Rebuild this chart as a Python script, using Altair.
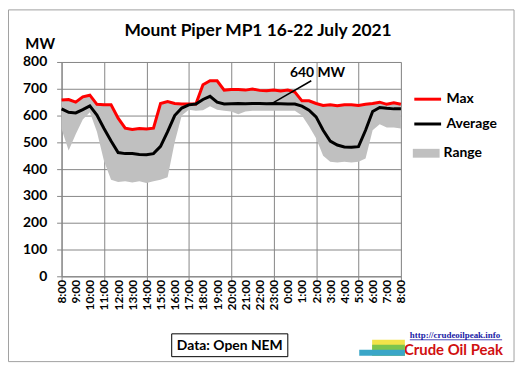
import altair as alt
import pandas as pd

# time axis: hours after 8:00 on the first day, every 30 minutes
hours = [i * 0.5 for i in range(49)]

max_mw = [658, 660, 650, 670, 676, 642, 640, 640, 590, 553, 548, 552, 550, 553,
          645, 652, 645, 643, 643, 643, 715, 730, 730, 695, 697, 697, 695, 699,
          694, 693, 695, 692, 695, 688, 655, 655, 645, 638, 640, 637, 640, 640,
          638, 642, 645, 650, 642, 648, 642]
avg_mw = [625, 612, 610, 622, 636, 602, 552, 505, 462, 458, 458, 455, 454, 458,
          485, 540, 600, 628, 640, 643, 660, 672, 650, 643, 644, 645, 644, 645,
          645, 644, 645, 644, 643, 643, 635, 620, 595, 545, 505, 490, 483, 482,
          484, 545, 615, 630, 627, 625, 625]
min_mw = [550, 470, 530, 585, 612, 540, 430, 360, 352, 355, 350, 355, 348, 355,
          360, 370, 500, 600, 622, 618, 620, 635, 622, 618, 615, 605, 615, 618,
          618, 618, 618, 618, 618, 618, 600, 560, 515, 450, 428, 425, 428, 425,
          428, 440, 545, 568, 555, 555, 552]

series_names = ["Max", "Average"]
series_colors = ["#ff0000", "#000000"]
range_name = ["Range"]
range_color = ["#c0c0c0"]

hour_ticks = list(range(25))
grid_hours = list(range(0, 25, 3))
mw_ticks = list(range(0, 801, 100))

title_text = ["Mount Piper MP1 16-22 July 2021"]
note_text = ["640 MW"]
note_h = [18.1]
note_v = [757]
pointer_h = [14.95]
pointer_v = [647]
pointer_h2 = [17.66]
pointer_v2 = [730]
source_text = ["Data: Open NEM"]
url_text = ["http://crudeoilpeak.info"]
brand_text = ["Crude Oil Peak"]

FONT = "Lato"
GRID = "#868686"

df = pd.DataFrame({"h": hours, "Max": max_mw, "Average": avg_mw, "Min": min_mw})

# axis with grid + ticks every 3 hours (no labels)
x_grid_axis = alt.Axis(
    orient="bottom", values=grid_hours, labels=False,
    grid=True, gridColor=GRID, gridWidth=1,
    ticks=True, tickColor=GRID, tickSize=5,
    domain=True, domainColor=GRID, title=None,
)
# axis with hourly labels only
x_label_axis = alt.Axis(
    orient="bottom", values=hour_ticks,
    labelExpr="((datum.value + 8) % 24) + ':00'",
    labelAngle=-90, labelFont=FONT, labelFontWeight="bold", labelFontSize=12,
    labelColor="black", labelPadding=3, labelOverlap=False, labelFlush=False,
    grid=False, ticks=False, domain=False, title=None,
)
y_axis = alt.Axis(
    orient="left", values=mw_ticks,
    labelFont=FONT, labelFontWeight="bold", labelFontSize=14, labelColor="black",
    labelPadding=10, labelOverlap=False, labelFlush=False,
    grid=True, gridColor=GRID, tickColor=GRID, tickSize=5,
    domainColor=GRID,
    title="MW", titleAngle=0, titleFont=FONT, titleFontWeight="bold",
    titleFontSize=15, titleAlign="left", titleBaseline="alphabetic",
    titleX=-37, titleY=-14, titleColor="black",
)
xs = alt.Scale(domain=[0, 24], nice=False, zero=False)
ys = alt.Scale(domain=[0, 800], nice=False)

base = alt.Chart(df)

area = base.transform_calculate(lab="'Range'").mark_area(opacity=1).encode(
    x=alt.X("h:Q", scale=xs, axis=x_grid_axis),
    y=alt.Y("Min:Q", scale=ys, axis=y_axis),
    y2="Max:Q",
    fill=alt.Fill("lab:N", scale=alt.Scale(domain=range_name, range=range_color),
                  legend=alt.Legend(orient="none", legendX=354, legendY=78.5, title=None,
                                    symbolType="M-1,-0.33L1,-0.33L1,0.33L-1,0.33Z",
                                    symbolSize=729, symbolStrokeWidth=0, symbolOpacity=1,
                                    labelFont=FONT, labelFontWeight="bold", labelFontSize=14,
                                    labelColor="black", labelOffset=4, padding=0, rowPadding=0)),
)

lines = base.transform_fold(series_names, as_=["series", "mw"]).mark_line(strokeWidth=3).encode(
    x=alt.X("h:Q", scale=xs, axis=x_label_axis),
    y=alt.Y("mw:Q", scale=ys, axis=None),
    stroke=alt.Stroke("series:N", scale=alt.Scale(domain=series_names, range=series_colors),
                      legend=alt.Legend(orient="none", legendX=354, legendY=22.5, title=None,
                                        symbolType="stroke", symbolSize=729, symbolStrokeWidth=3,
                                        labelFont=FONT, labelFontWeight="bold", labelFontSize=14,
                                        labelColor="black", labelOffset=4, padding=0, rowPadding=3)),
)

note_df = pd.DataFrame({"h": pointer_h, "v": pointer_v, "h2": pointer_h2, "v2": pointer_v2,
                        "th": note_h, "tv": note_v, "t": note_text})
pointer = alt.Chart(note_df).mark_rule(color="black", strokeWidth=1.5).encode(
    x=alt.X("h:Q", scale=xs, axis=None), y=alt.Y("v:Q", scale=ys, axis=None), x2="h2:Q", y2="v2:Q")
note = alt.Chart(note_df).mark_text(font=FONT, fontWeight="bold", fontSize=14, color="black").encode(
    x=alt.X("th:Q", scale=xs, axis=None), y=alt.Y("tv:Q", scale=ys, axis=None), text="t:N")

title = alt.Chart(pd.DataFrame({"t": title_text})).mark_text(
    font=FONT, fontWeight="bold", fontSize=17.5, color="black", baseline="alphabetic"
).encode(x=alt.value(198), y=alt.value(-26), text="t:N")

frame = alt.Chart(pd.DataFrame({"t": [0]})).mark_rect(filled=False, stroke="#a0a0a0", strokeWidth=1).encode(
    x=alt.value(-53.5), x2=alt.value(456), y=alt.value(-52.5), y2=alt.value(302))

src_box = alt.Chart(pd.DataFrame({"t": source_text})).mark_rect(filled=False, stroke="black", strokeWidth=1).encode(
    x=alt.value(111), x2=alt.value(228), y=alt.value(274), y2=alt.value(297))
src = alt.Chart(pd.DataFrame({"t": source_text})).mark_text(
    font=FONT, fontWeight="bold", fontSize=14, color="black").encode(
    x=alt.value(169.5), y=alt.value(286), text="t:N")

url = alt.Chart(pd.DataFrame({"t": url_text})).mark_text(
    font="Liberation Serif", fontWeight="bold", fontSize=9, color="#1a1aa6", align="left").encode(
    x=alt.value(351), y=alt.value(275), text="t:N")
url_line = alt.Chart(pd.DataFrame({"t": url_text})).mark_rule(color="#1a1aa6", strokeWidth=0.8).encode(
    x=alt.value(351), x2=alt.value(444), y=alt.value(280))
brand = alt.Chart(pd.DataFrame({"t": brand_text})).mark_text(
    font=FONT, fontWeight="bold", fontSize=15, color="#d01010", align="left").encode(
    x=alt.value(345), y=alt.value(290), text="t:N")

# small logo emblem (decorative blocks)
one = pd.DataFrame({"t": [0]})
logo_y = alt.Chart(one).mark_rect(fill="#f2e34a").encode(
    x=alt.value(313), x2=alt.value(346), y=alt.value(280), y2=alt.value(296))
logo_g = alt.Chart(one).mark_rect(fill="#7cc44e").encode(
    x=alt.value(313), x2=alt.value(346), y=alt.value(285), y2=alt.value(296))
logo_b = alt.Chart(one).mark_rect(fill="#3aa6c8").encode(
    x=alt.value(300), x2=alt.value(346), y=alt.value(290), y2=alt.value(296))

chart = alt.layer(area, lines, pointer, note, title, src_box, src, url, url_line, brand,
                  logo_y, logo_g, logo_b, frame).properties(
    width=342, height=216,
    padding={"left": 54, "top": 53, "right": 116, "bottom": 88},
    autosize=alt.AutoSizeParams(type="none"),
).resolve_axis(x="independent", y="independent").configure_view(stroke=None).configure(font=FONT, background="white")

chart.save("out.html", embed_options={"renderer": "svg", "actions": False})
